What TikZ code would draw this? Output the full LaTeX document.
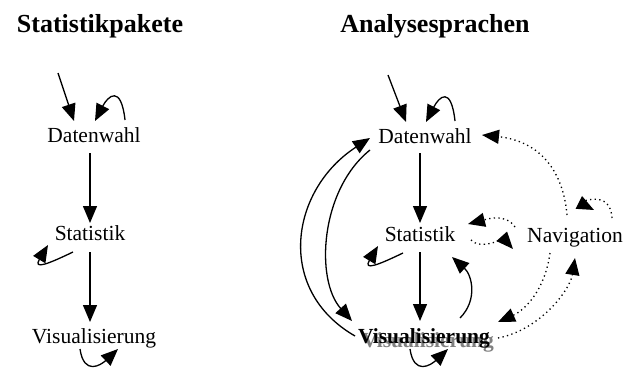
\documentclass[tikz,border=0pt]{standalone}
\usepackage{fontspec}
\setmainfont{Liberation Serif}
\usetikzlibrary{arrows.meta}

\tikzset{
  lbl/.style={inner sep=0pt, anchor=base, font=\fontsize{21.5}{24}\selectfont},
  head/.style={inner sep=0pt, anchor=base, font=\fontsize{26}{30}\selectfont\bfseries},
  flow/.style={line width=1.3pt, -{Triangle[length=17pt,width=14pt]}},
  nav/.style={flow, dash pattern=on 1.3pt off 3.3pt},
}

\begin{document}
\begin{tikzpicture}[x=1pt, y=-1pt]
  \useasboundingbox (0,0) rectangle (626,372);

  % column headings
  \node[head] (titleL) at (100,32) {Statistikpakete};
  \node[head] (titleR) at (435,32) {Analysesprachen};

  % ---- left column: statistics packages ----
  \node[lbl] (dwL) at (94,142) {Datenwahl};
  \node[lbl] (stL) at (90,240) {Statistik};
  \node[lbl] (viL) at (94,343) {Visualisierung};
  \coordinate (inL) at (58,73);

  \draw[flow] (inL) -- ([shift={(-20,-21)}]dwL.base);
  \draw[flow] ([shift={(31,-22)}]dwL.base) .. controls +(-4,-36) and +(13,-25) .. ([shift={(1,-21)}]dwL.base);
  \draw[flow] ([shift={(-4,11)}]dwL.base) -- ([shift={(0,-17)}]stL.base);
  \draw[flow] ([shift={(-17,12)}]stL.base) .. controls +(-25,12) and +(-15,25) .. ([shift={(-42,5)}]stL.base);
  \draw[flow] ([shift={(0,12)}]stL.base) -- ([shift={(-4,-21)}]viL.base);
  \draw[flow] ([shift={(-14,6)}]viL.base) .. controls +(4,27) and +(-17,16) .. ([shift={(24,6)}]viL.base);

  % ---- right column: analysis languages ----
  \node[lbl] (dwR) at (425,143) {Datenwahl};
  \node[lbl] (stR) at (420,241) {Statistik};
  \node[lbl, text=black!50, font=\fontsize{21.5}{24}\selectfont\bfseries] (viRs) at (428,347) {Visualisierung};
  \node[lbl, font=\fontsize{21.5}{24}\selectfont\bfseries] (viR) at (424,343) {Visualisierung};
  \node[lbl] (nav) at (575,242) {Navigation};
  \coordinate (inR) at (388,75);

  \draw[flow] (inR) -- ([shift={(-19,-21)}]dwR.base);
  \draw[flow] ([shift={(30,-22)}]dwR.base) .. controls +(-4,-36) and +(13,-25) .. ([shift={(1,-21)}]dwR.base);
  \draw[flow] ([shift={(-5,10)}]dwR.base) -- ([shift={(0,-18)}]stR.base);
  \draw[flow] ([shift={(-17,12)}]stR.base) .. controls +(-25,12) and +(-15,25) .. ([shift={(-42,5)}]stR.base);
  \draw[flow] ([shift={(0,11)}]stR.base) -- ([shift={(-4,-22)}]viR.base);
  \draw[flow] ([shift={(-14,6)}]viR.base) .. controls +(4,27) and +(-17,16) .. ([shift={(24,6)}]viR.base);

  % long arcs between Datenwahl and Visualisierung
  \draw[flow] ([shift={(-69,-7)}]viR.base) .. controls +(-80,-46) and +(-80,52) .. ([shift={(-55,-5)}]dwR.base);
  \draw[flow] ([shift={(-55,7)}]dwR.base) .. controls +(-50,40) and +(-37,-41) .. ([shift={(-72,-22)}]viR.base);
  \draw[flow] ([shift={(36,-25)}]viR.base) .. controls +(18,-18) and +(20,18) .. ([shift={(32,16)}]stR.base);

  % navigation links
  \draw[nav] ([shift={(-8,-27)}]nav.base) .. controls +(-5,-55) and +(48,5) .. ([shift={(57,-8)}]dwR.base);
  \draw[nav] ([shift={(37,-24)}]nav.base) .. controls +(-2,-30) and +(-14,-7) .. ([shift={(19,-32)}]nav.base);
  \draw[nav] ([shift={(-60,-15)}]nav.base) .. controls +(-10,-15) and +(16,-4) .. ([shift={(48,-17)}]stR.base);
  \draw[nav] ([shift={(51,-1)}]stR.base) .. controls +(9,10) and +(-8,-9) .. ([shift={(-62,7)}]nav.base);
  \draw[nav] ([shift={(-25,11)}]nav.base) .. controls +(-5,37) and +(27,-12) .. ([shift={(74,-21)}]viR.base);
  \draw[nav] ([shift={(74,-5)}]viR.base) .. controls +(42,-8) and +(-5,32) .. ([shift={(0,16)}]nav.base);
\end{tikzpicture}
\end{document}
